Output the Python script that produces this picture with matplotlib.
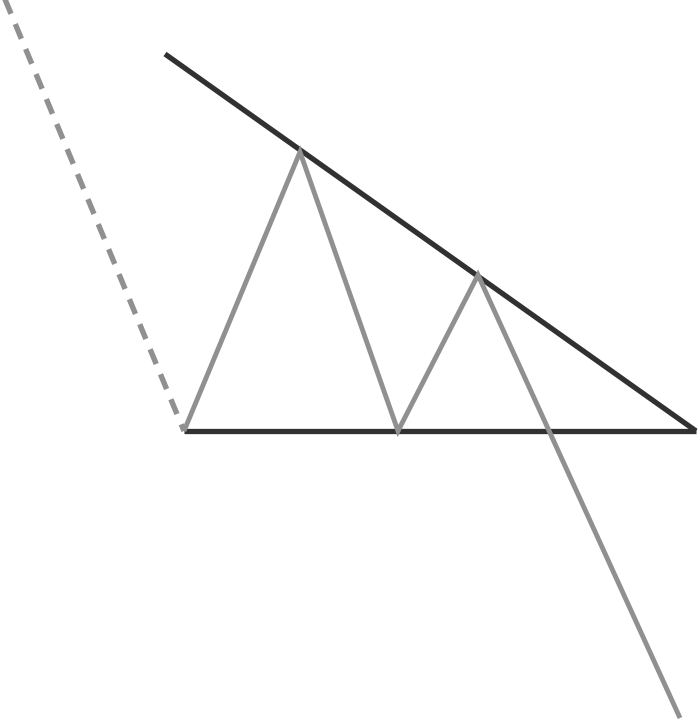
import matplotlib
matplotlib.use("Agg")
import matplotlib.pyplot as plt

# pixel-space coordinates (y grows downward)
dash_x = [2, 184]
dash_y = [-8, 431]

zigzag_x = [184, 300, 398, 478, 680]
zigzag_y = [431, 152, 431, 275, 718]

upper_x = [165, 696]
upper_y = [54, 431]

base_x = [184, 696]
base_y = [431, 431]

black = '#313131'
gray = '#909090'

plt.rcParams['lines.scale_dashes'] = False

fig = plt.figure(figsize=(7, 7.22), dpi=100)
ax = fig.add_axes([0, 0, 1, 1])
ax.set_xlim(0, 700)
ax.set_ylim(722, 0)
ax.axis('off')

ax.plot(dash_x, dash_y, color=gray, lw=3.9, dashes=(11.5, 8), dash_capstyle='butt')
ax.plot(upper_x, upper_y, color=black, lw=3.8, solid_capstyle='butt')
ax.plot(base_x, base_y, color=black, lw=3.8, solid_capstyle='butt')
ax.plot(zigzag_x, zigzag_y, color=gray, lw=3.5, solid_joinstyle='miter', solid_capstyle='butt')

fig.savefig('out.png', dpi=100)
